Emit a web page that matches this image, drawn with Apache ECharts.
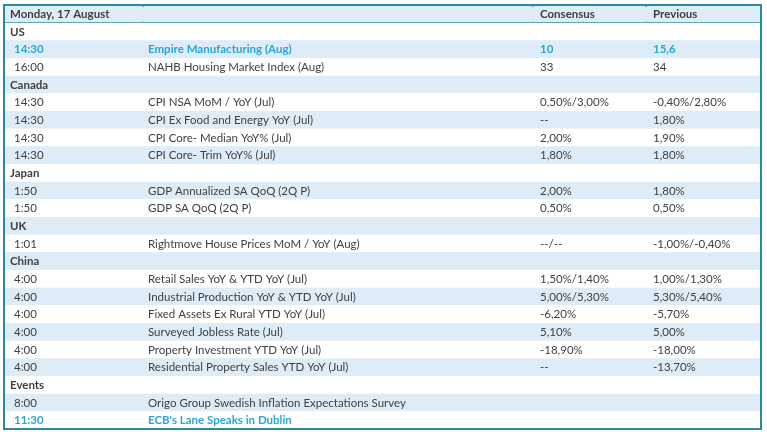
<!DOCTYPE html>
<html>
<head>
<meta charset="utf-8">
<script src="https://cdn.jsdelivr.net/npm/echarts@6/dist/echarts.min.js"></script>
<style>
  html, body { margin: 0; padding: 0; background: #fff; }
  #main { width: 767px; height: 432px; }
</style>
</head>
<body>
<div id="main"></div>
<script>
// row type: head / section / hl (highlighted event) / row
const rowKinds = ['head', 'section', 'hl', 'row', 'section', 'row', 'row', 'row', 'row', 'section', 'row', 'row',
  'section', 'row', 'section', 'row', 'row', 'row', 'row', 'row', 'row', 'section', 'row', 'hl'];
const times = ['Monday, 17 August', 'US', '14:30', '16:00', 'Canada', '14:30', '14:30', '14:30', '14:30', 'Japan', '1:50', '1:50',
  'UK', '1:01', 'China', '4:00', '4:00', '4:00', '4:00', '4:00', '4:00', 'Events', '8:00', '11:30'];
const events = ['', '', 'Empire Manufacturing (Aug)', 'NAHB Housing Market Index (Aug)', '',
  'CPI NSA MoM / YoY (Jul)', 'CPI Ex Food and Energy YoY (Jul)', 'CPI Core- Median YoY% (Jul)', 'CPI Core- Trim YoY% (Jul)', '',
  'GDP Annualized SA QoQ (2Q P)', 'GDP SA QoQ (2Q P)', '', 'Rightmove House Prices MoM / YoY (Aug)', '',
  'Retail Sales YoY & YTD YoY (Jul)', 'Industrial Production YoY & YTD YoY (Jul)', 'Fixed Assets Ex Rural YTD YoY (Jul)',
  'Surveyed Jobless Rate (Jul)', 'Property Investment YTD YoY (Jul)', 'Residential Property Sales YTD YoY (Jul)', '',
  'Origo Group Swedish Inflation Expectations Survey', "ECB's Lane Speaks in Dublin"];
const consensus = ['Consensus', '', '10', '33', '', '0,50%/3,00%', '--', '2,00%', '1,80%', '', '2,00%', '0,50%',
  '', '--/--', '', '1,50%/1,40%', '5,00%/5,30%', '-6,20%', '5,10%', '-18,90%', '--', '', '', ''];
const previous = ['Previous', '', '15,6', '34', '', '-0,40%/2,80%', '1,80%', '1,90%', '1,80%', '', '1,80%', '0,50%',
  '', '-1,00%/-0,40%', '', '1,00%/1,30%', '5,30%/5,40%', '-5,70%', '5,00%', '-18,00%', '-13,70%', '', '', ''];

const W = 757;                 // x axis runs 0..W
const colX = [10, 144, 536, 649];
const sepX = [139, 529, 642];
const dark = '#3f3f3f', hlColor = '#2ba6d6', shade = '#ddecf7', frame = '#2b8a9a';
const fontFamily = 'Lato, "Open Sans", sans-serif';

const rowIdx = rowKinds.map((k, i) => String(i));

const cells = [];
rowKinds.forEach((k, i) => {
  const cols = [times[i], events[i], consensus[i], previous[i]];
  cols.forEach((t, c) => {
    if (!t) return;
    let x = colX[c];
    if (c === 0 && (k === 'head' || k === 'section')) x = 6;
    cells.push({ value: [x, i], text: t, kind: k });
  });
});

const chart = echarts.init(document.getElementById('main'));

chart.setOption({
  animation: false,
  grid: { left: 4, right: 6, top: 5, bottom: 3 },
  xAxis: { type: 'value', min: 0, max: W, show: false },
  yAxis: { type: 'category', data: rowIdx, inverse: true, show: false },
  series: [
    {
      type: 'custom',
      silent: true,
      data: rowKinds.map((k, i) => [0, i]),
      renderItem: function (params, api) {
        const i = api.value(1);
        const p0 = api.coord([0, i]);
        const p1 = api.coord([W, i]);
        const h = api.size([0, 1])[1];
        const children = [{
          type: 'rect',
          shape: { x: p0[0], y: p0[1] - h / 2, width: p1[0] - p0[0], height: h },
          style: { fill: i % 2 === 0 ? shade : '#fff' }
        }];
        if (i === 0) {
          children.push({
            type: 'line',
            shape: { x1: p0[0], y1: p0[1] + h / 2, x2: p1[0], y2: p0[1] + h / 2 },
            style: { stroke: frame, lineWidth: 1.5 }
          });
          sepX.forEach(function (sx) {
            const ps = api.coord([sx, i]);
            children.push({
              type: 'line',
              shape: { x1: ps[0], y1: ps[1] - h / 2, x2: ps[0], y2: ps[1] - h / 2 + 2 },
              style: { stroke: '#2f6f7a', lineWidth: 1 }
            });
            children.push({
              type: 'line',
              shape: { x1: ps[0], y1: ps[1] + h / 2 - 1, x2: ps[0], y2: ps[1] + h / 2 + 2 },
              style: { stroke: '#2f6f7a', lineWidth: 1 }
            });
          });
        }
        return { type: 'group', children: children };
      },
      z: 1
    },
    {
      type: 'custom',
      silent: true,
      data: cells.map(c => c.value),
      renderItem: function (params, api) {
        const c = cells[params.dataIndex];
        const p = api.coord([api.value(0), api.value(1)]);
        const bold = c.kind !== 'row';
        return {
          type: 'text',
          style: {
            text: c.text,
            x: p[0],
            y: p[1] + 0.5,
            fill: c.kind === 'hl' ? hlColor : dark,
            font: (bold ? 'bold ' : '') + '11.5px ' + fontFamily,
            verticalAlign: 'middle',
            align: 'left'
          }
        };
      },
      z: 3
    },
    {
      type: 'custom',
      silent: true,
      data: [[0, 0]],
      renderItem: function (params, api) {
        const h = api.size([0, 1])[1];
        const a = api.coord([0, 0]);
        const b = api.coord([W, rowKinds.length - 1]);
        return {
          type: 'rect',
          shape: { x: a[0], y: a[1] - h / 2, width: b[0] - a[0], height: b[1] + h / 2 - (a[1] - h / 2) },
          style: { fill: 'none', stroke: frame, lineWidth: 2 }
        };
      },
      z: 4
    }
  ]
});
</script>
</body>
</html>
